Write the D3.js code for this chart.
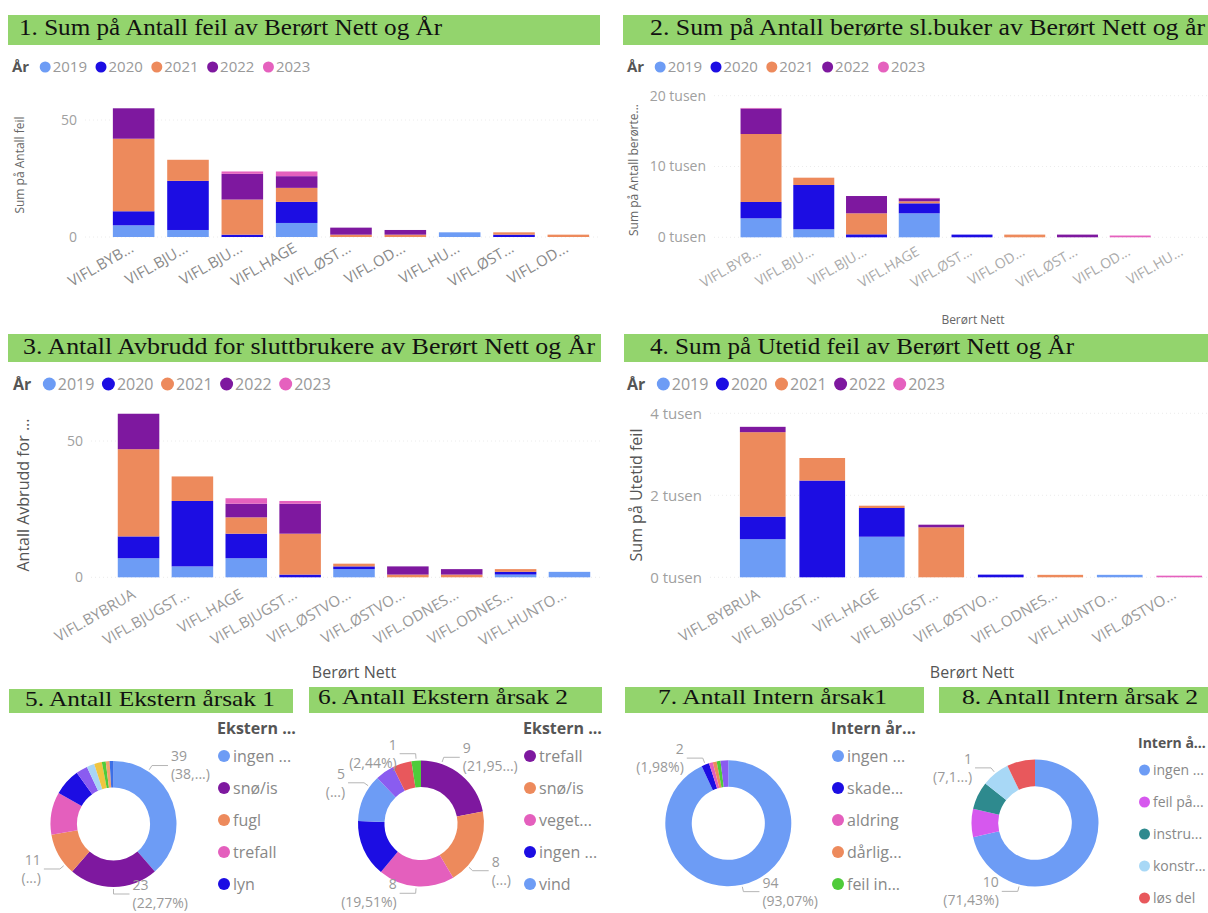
<!DOCTYPE html>
<html>
<head>
<meta charset="utf-8">
<script src="https://cdn.jsdelivr.net/npm/d3@7"></script>
<style>
body { margin: 0; background: #fff; }
svg { display: block; font-family: "Open Sans", sans-serif; }
</style>
</head>
<body>
<svg id="dash" width="1208" height="913"></svg>
<script>

// år og farger (felles for søylediagrammene)
var years = ["2019", "2020", "2021", "2022", "2023"];
var yearColors = ["#6d9cf5", "#1c0de3", "#ed8a5c", "#7e189f", "#e561be"];

var titles = [
    "1. Sum på Antall feil av Berørt Nett og År",
    "2. Sum på Antall berørte sl.buker av Berørt Nett og år",
    "3. Antall Avbrudd for sluttbrukere av Berørt Nett og År",
    "4. Sum på Utetid feil av Berørt Nett og År",
    "5. Antall Ekstern årsak 1",
    "6. Antall Ekstern årsak 2",
    "7. Antall Intern årsak1",
    "8. Antall Intern årsak 2"
];

// 1. Sum på Antall feil
var feilNett = ["VIFL.BYB...", "VIFL.BJU...", "VIFL.BJU...", "VIFL.HAGE", "VIFL.ØST...", "VIFL.OD...", "VIFL.HU...", "VIFL.ØST...", "VIFL.OD..."];
var feil2019 = [5, 3, 0, 6, 0, 0, 2, 0, 0];
var feil2020 = [6, 21, 1, 9, 0, 0, 0, 1, 0];
var feil2021 = [31, 9, 15, 6, 1, 1, 0, 1, 1];
var feil2022 = [13, 0, 11, 5, 3, 2, 0, 0, 0];
var feil2023 = [0, 0, 1, 2, 0, 0, 0, 0, 0];

// 2. Sum på Antall berørte sl.buker
var brukereNett = ["VIFL.BYB...", "VIFL.BJU...", "VIFL.BJU...", "VIFL.HAGE", "VIFL.ØST...", "VIFL.OD...", "VIFL.ØST...", "VIFL.OD...", "VIFL.HU..."];
var brukere2019 = [2680, 1130, 0, 3390, 0, 0, 0, 0, 0];
var brukere2020 = [2310, 6260, 420, 1410, 380, 0, 0, 0, 0];
var brukere2021 = [9600, 1030, 2970, 280, 0, 380, 0, 0, 0];
var brukere2022 = [3600, 0, 2440, 420, 0, 0, 380, 0, 0];
var brukere2023 = [80, 0, 0, 60, 0, 0, 0, 250, 0];

// 3. Antall Avbrudd for sluttbrukere
var avbruddNett = ["VIFL.BYBRUA", "VIFL.BJUGST...", "VIFL.HAGE", "VIFL.BJUGST...", "VIFL.ØSTVO...", "VIFL.ØSTVO...", "VIFL.ODNES...", "VIFL.ODNES...", "VIFL.HUNTO..."];
var avbrudd2019 = [7, 4, 7, 0, 3, 0, 0, 1, 2];
var avbrudd2020 = [8, 24, 9, 1, 1, 0, 0, 1, 0];
var avbrudd2021 = [32, 9, 6, 15, 1, 1, 1, 1, 0];
var avbrudd2022 = [13, 0, 5, 11, 0, 3, 2, 0, 0];
var avbrudd2023 = [0, 0, 2, 1, 0, 0, 0, 0, 0];

// 4. Sum på Utetid feil
var utetidNett = ["VIFL.BYBRUA", "VIFL.BJUGST...", "VIFL.HAGE", "VIFL.BJUGST...", "VIFL.ØSTVO...", "VIFL.ODNES...", "VIFL.HUNTO...", "VIFL.ØSTVO..."];
var utetid2019 = [930, 0, 990, 0, 0, 0, 60, 0];
var utetid2020 = [550, 2360, 700, 0, 65, 0, 0, 0];
var utetid2021 = [2060, 550, 56, 1220, 0, 60, 0, 0];
var utetid2022 = [130, 0, 0, 63, 0, 0, 0, 0];
var utetid2023 = [0, 0, 0, 0, 0, 0, 0, 40];

// 5. Ekstern årsak 1 (bare de fem første vises i forklaringen)
var ekstern1Navn = ["ingen ...", "snø/is", "fugl", "trefall", "lyn", "annet 1", "annet 2", "annet 3", "annet 4", "annet 5", "annet 6"];
var ekstern1Antall = [39, 23, 11, 11, 7, 3, 2, 2, 1, 1, 1];
var ekstern1Farger = ["#6d9cf5", "#7e189f", "#ed8a5c", "#e45fbd", "#1c0de3", "#8a5cf0", "#a8d5f5", "#f0c540", "#4fcb3a", "#f2a36d", "#3d6fe6"];

// 6. Ekstern årsak 2
var ekstern2Navn = ["trefall", "snø/is", "veget...", "ingen ...", "vind", "annet 1", "annet 2", "annet 3"];
var ekstern2Antall = [9, 8, 8, 6, 5, 2, 2, 1];
var ekstern2Farger = ["#7e189f", "#ed8a5c", "#e45fbd", "#1c0de3", "#6d9cf5", "#8a5cf0", "#e8585c", "#4fcb3a"];

// 7. Intern årsak1
var intern1Navn = ["ingen ...", "skade...", "aldring", "dårlig...", "feil in...", "annet"];
var intern1Antall = [94, 2, 1, 1, 1, 2];
var intern1Farger = ["#6d9cf5", "#1c0de3", "#e45fbd", "#ed8a5c", "#4fcb3a", "#8a5cf0"];

// 8. Intern årsak 2
var intern2Navn = ["ingen ...", "feil på...", "instru...", "konstr...", "løs del"];
var intern2Antall = [10, 1, 1, 1, 1];
var intern2Farger = ["#6d9cf5", "#d658ee", "#2e8a8e", "#a8d8f6", "#e8585c"];

var svg = d3.select("#dash");

// grønne tittelfelt
var titleBoxes = [
    {x: 8, y: 15, w: 592, h: 30, tx: 19, tw: 423, base: 35, fs: 24},
    {x: 623, y: 15, w: 585, h: 30, tx: 650, tw: 555, base: 35, fs: 24},
    {x: 8, y: 334, w: 593, h: 28, tx: 23, tw: 572, base: 354, fs: 24},
    {x: 624, y: 334, w: 584, h: 28, tx: 650, tw: 424, base: 354, fs: 24},
    {x: 9, y: 689, w: 284, h: 24, tx: 25, tw: 250, base: 706, fs: 21},
    {x: 309, y: 687, w: 293, h: 26, tx: 318, tw: 250, base: 704, fs: 21},
    {x: 625, y: 687, w: 299, h: 26, tx: 658, tw: 229, base: 704, fs: 21},
    {x: 939, y: 687, w: 269, h: 26, tx: 962, tw: 236, base: 704, fs: 21}
];

titleBoxes.forEach(function(b, i){
    svg.append("rect")
        .attr("x", b.x).attr("y", b.y)
        .attr("width", b.w).attr("height", b.h)
        .attr("fill", "#93d46d");
    svg.append("text")
        .attr("x", b.tx).attr("y", b.base)
        .text(titles[i])
        .style("font-family", "'Liberation Serif', serif")
        .style("font-size", b.fs + "px")
        .attr("fill", "#111")
        .attr("textLength", b.tw)
        .attr("lengthAdjust", "spacingAndGlyphs");
});

function yearLegend(g, lg){
    var t = g.append("text")
        .attr("x", lg.x).attr("y", lg.y).attr("dy", "0.35em")
        .text("År")
        .style("font-size", lg.fs + "px").style("font-weight", "bold")
        .attr("fill", "#555");
    var cx = lg.x + t.node().getComputedTextLength() + lg.first;
    years.forEach(function(y, i){
        g.append("circle").attr("cx", cx).attr("cy", lg.y).attr("r", lg.r).attr("fill", yearColors[i]);
        var tt = g.append("text")
            .attr("x", cx + lg.r + 2).attr("y", lg.y).attr("dy", "0.35em")
            .text(y)
            .style("font-size", lg.fs + "px")
            .attr("fill", "#999");
        cx = cx + lg.r + 2 + tt.node().getComputedTextLength() + lg.gap;
    });
}

function plotBars(nett, vals, o){
    var g = svg.append("g");

    var rows = nett.map(function(n, i){
        var r = {idx: i};
        years.forEach(function(y, k){ r[y] = vals[k][i]; });
        return r;
    });
    var series = d3.stack().keys(years)(rows);

    var x = d3.scaleBand()
        .domain(d3.range(nett.length))
        .range(o.xRange)
        .paddingInner(o.padIn)
        .paddingOuter(o.padOut);

    var y = d3.scaleLinear()
        .domain([0, o.yMax])
        .range(o.yRange);

    // svake stiplede hjelpelinjer
    g.selectAll("line.grid")
        .data(o.ticks)
        .enter()
        .append("line")
            .attr("x1", o.yLabelX + 8).attr("x2", o.xRange[1])
            .attr("y1", function(d){ return y(d); })
            .attr("y2", function(d){ return y(d); })
            .attr("stroke", "#ececec")
            .attr("stroke-dasharray", "1,3");

    var gy = g.append("g")
        .attr("transform", "translate(" + o.yLabelX + ",0)")
        .call(d3.axisLeft(y).tickValues(o.ticks).tickSize(0).tickPadding(0).tickFormat(o.fmt));
    gy.select(".domain").remove();
    gy.selectAll("text")
        .style("font-family", "'Open Sans', sans-serif")
        .style("font-size", o.tickFont + "px")
        .attr("fill", "#a0a0a0");

    g.selectAll("g.layer")
        .data(series)
        .enter()
        .append("g")
            .attr("fill", function(d, i){ return yearColors[i]; })
        .selectAll("rect")
        .data(function(d){ return d; })
        .enter()
        .append("rect")
            .attr("x", function(d){ return x(d.data.idx); })
            .attr("width", x.bandwidth())
            .attr("y", function(d){ return y(d[1]); })
            .attr("height", function(d){ return y(d[0]) - y(d[1]); });

    var gx = g.append("g")
        .attr("transform", "translate(0," + o.yRange[0] + ")")
        .call(d3.axisBottom(x).tickSize(0).tickFormat(function(i){ return nett[i]; }));
    gx.select(".domain").remove();
    gx.selectAll("text")
        .attr("x", 0).attr("y", 0).attr("dy", 0)
        .attr("text-anchor", "end")
        .attr("transform", "translate(" + o.labelDx + "," + o.labelDy + ") rotate(-30)")
        .style("font-family", "'Open Sans', sans-serif")
        .style("font-size", o.labelFont + "px")
        .attr("fill", o.labelColor);

    g.append("text")
        .attr("transform", "translate(" + o.yTitle.x + "," + o.yTitle.y + ") rotate(-90)")
        .attr("text-anchor", "middle").attr("dy", "0.35em")
        .text(o.yTitle.text)
        .style("font-size", o.yTitle.fs + "px")
        .attr("fill", o.yTitle.color);

    if(o.xTitle){
        g.append("text")
            .attr("x", o.xTitle.x).attr("y", o.xTitle.y)
            .attr("text-anchor", "middle").attr("dy", "0.35em")
            .text("Berørt Nett")
            .style("font-size", o.xTitle.fs + "px")
            .attr("fill", o.xTitle.color);
    }

    yearLegend(g, o.legend);
}

var tusen = function(d){ return (d / 1000) + " tusen"; };

plotBars(feilNett, [feil2019, feil2020, feil2021, feil2022, feil2023], {
    xRange: [102, 600], padIn: 0.235, padOut: 0.2,
    yRange: [237, 120], yMax: 50, ticks: [0, 50], fmt: d3.format("d"),
    yLabelX: 77, tickFont: 14,
    labelDx: 1, labelDy: 14, labelFont: 15, labelColor: "#8a8a8a",
    yTitle: {text: "Sum på Antall feil", x: 20, y: 165, fs: 12, color: "#666"},
    xTitle: null,
    legend: {x: 12, y: 67, fs: 15, r: 5.5, first: 16, gap: 14}
});

plotBars(brukereNett, [brukere2019, brukere2020, brukere2021, brukere2022, brukere2023], {
    xRange: [730, 1214], padIn: 0.223, padOut: 0.2,
    yRange: [237.3, 166.5], yMax: 10000, ticks: [0, 10000, 20000], fmt: tusen,
    yLabelX: 706, tickFont: 14,
    labelDx: 1, labelDy: 17, labelFont: 14, labelColor: "#aaa",
    yTitle: {text: "Sum på Antall berørte...", x: 634, y: 170, fs: 12, color: "#666"},
    xTitle: {x: 973, y: 320, fs: 12, color: "#666"},
    legend: {x: 627, y: 67, fs: 15, r: 5.5, first: 16, gap: 14}
});

plotBars(avbruddNett, [avbrudd2019, avbrudd2020, avbrudd2021, avbrudd2022, avbrudd2023], {
    xRange: [107, 601], padIn: 0.229, padOut: 0.2,
    yRange: [577.3, 441], yMax: 50, ticks: [0, 50], fmt: d3.format("d"),
    yLabelX: 83, tickFont: 14,
    labelDx: -2, labelDy: 20, labelFont: 15, labelColor: "#999",
    yTitle: {text: "Antall Avbrudd for ...", x: 23, y: 495, fs: 16, color: "#555"},
    xTitle: {x: 354, y: 672, fs: 16, color: "#555"},
    legend: {x: 13, y: 384, fs: 16, r: 6.5, first: 18, gap: 14}
});

plotBars(utetidNett, [utetid2019, utetid2020, utetid2021, utetid2022, utetid2023], {
    xRange: [728, 1214], padIn: 0.232, padOut: 0.2,
    yRange: [577.3, 495.3], yMax: 2000, ticks: [0, 2000, 4000], fmt: tusen,
    yLabelX: 702, tickFont: 15,
    labelDx: -2, labelDy: 20, labelFont: 15, labelColor: "#999",
    yTitle: {text: "Sum på Utetid feil", x: 636, y: 495, fs: 16, color: "#555"},
    xTitle: {x: 972, y: 672, fs: 16, color: "#555"},
    legend: {x: 627, y: 384, fs: 16, r: 6.5, first: 18, gap: 14}
});

function pctText(v, total, keep){
    var s = "(" + (v / total * 100).toFixed(2).replace(".", ",") + "%)";
    if(keep){
        s = s.slice(0, keep) + "...)";
    }
    return s;
}

function plotDonut(navn, antall, farger, o){
    var g = svg.append("g");
    var arcs = d3.pie().sort(null).value(function(d){ return d; })(antall);
    var total = d3.sum(antall);
    var arc = d3.arc().innerRadius(o.r * 0.58).outerRadius(o.r);

    g.append("g")
        .attr("transform", "translate(" + o.cx + "," + o.cy + ")")
        .selectAll("path")
        .data(arcs)
        .enter()
        .append("path")
            .attr("d", arc)
            .attr("fill", function(d, i){ return farger[i]; });

    o.labels.forEach(function(l){
        var a = arcs[l.i];
        var ang = a.startAngle + (a.endAngle - a.startAngle) * l.at;
        var side = Math.sin(ang) > -0.01 ? 1 : -1;
        var p0 = [o.cx + (o.r + 2) * Math.sin(ang), o.cy - (o.r + 2) * Math.cos(ang)];
        var p1 = [o.cx + (o.r + 7) * Math.sin(ang), o.cy - (o.r + 7) * Math.cos(ang)];
        var p2 = [p1[0] + side * 16, p1[1]];
        g.append("path")
            .attr("d", d3.line()([p0, p1, p2]))
            .attr("fill", "none")
            .attr("stroke", "#b5b5b5")
            .attr("stroke-width", 1);
        var anchor = side > 0 ? "start" : "end";
        g.append("text")
            .attr("x", p2[0] + side * 3).attr("y", p1[1] - 9).attr("dy", "0.35em")
            .attr("text-anchor", anchor)
            .text(antall[l.i])
            .style("font-size", "14px").attr("fill", "#999");
        g.append("text")
            .attr("x", p2[0] + side * 3).attr("y", p1[1] + 9).attr("dy", "0.35em")
            .attr("text-anchor", anchor)
            .text(pctText(antall[l.i], total, l.keep))
            .style("font-size", "14px").attr("fill", "#999");
    });

    g.append("text")
        .attr("x", o.legX).attr("y", o.legTitleY).attr("dy", "0.35em")
        .text(o.legTitle)
        .style("font-size", o.legFs + "px").style("font-weight", "bold")
        .attr("fill", "#555");

    var items = g.selectAll("g.item")
        .data(navn.slice(0, 5))
        .enter()
        .append("g")
            .attr("transform", function(d, i){ return "translate(" + o.legX + "," + (o.legY0 + i * o.legStep) + ")"; });
    items.append("circle")
        .attr("cx", o.legR + 1).attr("cy", 0).attr("r", o.legR)
        .attr("fill", function(d, i){ return farger[i]; });
    items.append("text")
        .attr("x", 2 * o.legR + 4).attr("y", 0).attr("dy", "0.35em")
        .text(function(d){ return d; })
        .style("font-size", o.legFs + "px")
        .attr("fill", "#888");
}

plotDonut(ekstern1Navn, ekstern1Antall, ekstern1Farger, {
    cx: 113.5, cy: 824, r: 63,
    labels: [{i: 0, at: 0.24, keep: 4}, {i: 1, at: 0.5}, {i: 2, at: 0.23, keep: 1}],
    legTitle: "Ekstern ...", legX: 217, legTitleY: 728, legY0: 756, legStep: 32, legFs: 16, legR: 6
});

plotDonut(ekstern2Navn, ekstern2Antall, ekstern2Farger, {
    cx: 421, cy: 823.5, r: 63,
    labels: [{i: 0, at: 0.24, keep: 6}, {i: 1, at: 0.76, keep: 1}, {i: 2, at: 0.5}, {i: 4, at: 0.76, keep: 1}, {i: 7, at: 0.5}],
    legTitle: "Ekstern ...", legX: 523, legTitleY: 728, legY0: 756, legStep: 32, legFs: 16, legR: 6
});

plotDonut(intern1Navn, intern1Antall, intern1Farger, {
    cx: 728.3, cy: 823.3, r: 63,
    labels: [{i: 0, at: 0.5}, {i: 1, at: 0.5}],
    legTitle: "Intern år...", legX: 831, legTitleY: 728, legY0: 756, legStep: 32, legFs: 16, legR: 6
});

plotDonut(intern2Navn, intern2Antall, intern2Farger, {
    cx: 1035, cy: 823, r: 63.5,
    labels: [{i: 0, at: 0.755}, {i: 3, at: 0.5, keep: 4}],
    legTitle: "Intern å...", legX: 1138, legTitleY: 743, legY0: 770, legStep: 32, legFs: 14, legR: 5.5
});

</script>
</body>
</html>
